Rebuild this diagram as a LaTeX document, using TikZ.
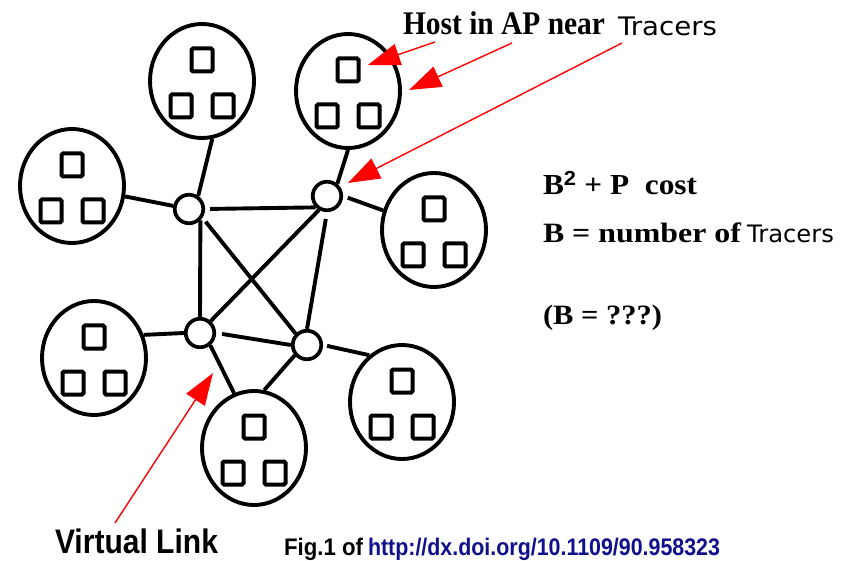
\documentclass[tikz,border=0pt]{standalone}
\usepackage{fontspec}
\usepackage{graphicx}
\setmainfont{Liberation Serif}
\newfontfamily\arialf{Liberation Sans}
\newfontfamily\dvsans{DejaVu Sans}
\usetikzlibrary{shapes.geometric,arrows.meta}
\definecolor{urlblue}{RGB}{16,16,140}
\newcommand\wtext[2]{\raisebox{0pt}[\height][0pt]{\resizebox{#1}{\height}{#2}}}
\newcommand\mkcluster[3]{%
  \node[cluster] (#1) at (#2,#3) {};
  \node[host] (#1t) at (#2,#3-21) {};
  \node[host] (#1l) at (#2-21,#3+25) {};
  \node[host] (#1r) at (#2+21,#3+25) {};}
\begin{document}
\begin{tikzpicture}[x=1pt,y=-1pt,
  cluster/.style={draw,ellipse,line width=3.9pt,minimum width=104pt,minimum height=114pt,inner sep=0pt},
  host/.style={draw,rectangle,line width=4pt,minimum width=21pt,minimum height=23pt,inner sep=0pt,rounded corners=1.5pt},
  router/.style={draw,circle,line width=3.7pt,minimum size=28.5pt,inner sep=0pt},
  link/.style={line width=3.9pt},
  pointer/.style={red,line width=1.4pt,-{Triangle[length=32pt,width=22pt]}},
  lbl/.style={anchor=base west,inner sep=0pt,outer sep=0pt}
]
\useasboundingbox (0,0) rectangle (846,561);
\fill[white] (0,0) rectangle (846,561);

% clusters
\mkcluster{c1}{202}{81}
\mkcluster{c2}{348}{91}
\mkcluster{c3}{72}{186}
\mkcluster{c4}{434}{230}
\mkcluster{c5}{94}{358}
\mkcluster{c6}{254}{448}
\mkcluster{c7}{402}{402}

% routers
\node[router] (A) at (189,209) {};
\node[router] (B) at (327,196) {};
\node[router] (C) at (200,333) {};
\node[router] (D) at (307,345) {};

% links
\draw[link] (c1.-80) -- (A.55);
\draw[link] (c3) -- (A);
\draw[link,shorten <=5pt] (A.east) -- (B.225);
\draw[link] (A.-45) -- (C.north);
\draw[link,shorten <=5pt] (A.-33) -- (D.135);
\draw[link] (B.240) -- (C.48);
\draw[link,shorten <=7pt] (B.south) -- (D.north);
\draw[link] (B.50) -- (c2.south);
\draw[link,shorten <=5pt] (B.east) -- (c4.159);
\draw[link] (c5.25) -- (C.west);
\draw[link,shorten <=6pt] (C.east) -- (D.west);
\draw[link] (C.-50) -- (c6.110);
\draw[link] (D.220) -- (c6.80);
\draw[link,shorten <=4pt] (D.east) -- (c7.125);

% red pointers
\coordinate (s1) at (435,42);  \coordinate (t1) at (368,65);
\coordinate (s2) at (512,43);  \coordinate (t2) at (409,90);
\coordinate (s3) at (622,43);  \coordinate (t3) at (348,183);
\coordinate (s4) at (115,523); \coordinate (t4) at (213,373);
\draw[pointer] (s1) -- (t1);
\draw[pointer] (s2) -- (t2);
\draw[pointer] (s3) -- (t3);
\draw[pointer] (s4) -- (t4);

% texts
\node[lbl] (host) at (403,35) {\fontsize{33}{33}\selectfont\bfseries\wtext{202pt}{Host in AP near}};
\node[lbl] (tr1) at (618,36) {\fontsize{25.5}{25.5}\selectfont\dvsans\wtext{99pt}{Tracers}};
\node[lbl] (cost) at (543,195) {\fontsize{29}{29}\selectfont\bfseries\wtext{154pt}{B\textsuperscript{\arialf\bfseries 2} + P\ \ cost}};
\node[lbl] (bnum) at (543,243) {\fontsize{28}{28}\selectfont\bfseries\wtext{198pt}{B = number of}};
\node[lbl] (tr2) at (747,243) {\fontsize{24}{24}\selectfont\dvsans\wtext{87pt}{Tracers}};
\node[lbl] (bq) at (543,325) {\fontsize{28}{28}\selectfont\bfseries\wtext{119pt}{(B = ???)}};
\node[lbl] (vl) at (55,553) {\fontsize{34}{34}\selectfont\arialf\bfseries\wtext{163pt}{Virtual Link}};
\node[lbl] (fig) at (284,555) {\fontsize{24}{24}\selectfont\arialf\bfseries\wtext{79pt}{Fig.1 of}};
\node[lbl,text=urlblue] (url) at (368,555) {\fontsize{24}{24}\selectfont\arialf\bfseries\wtext{352pt}{http://dx.doi.org/10.1109/90.958323}};
\end{tikzpicture}
\end{document}
